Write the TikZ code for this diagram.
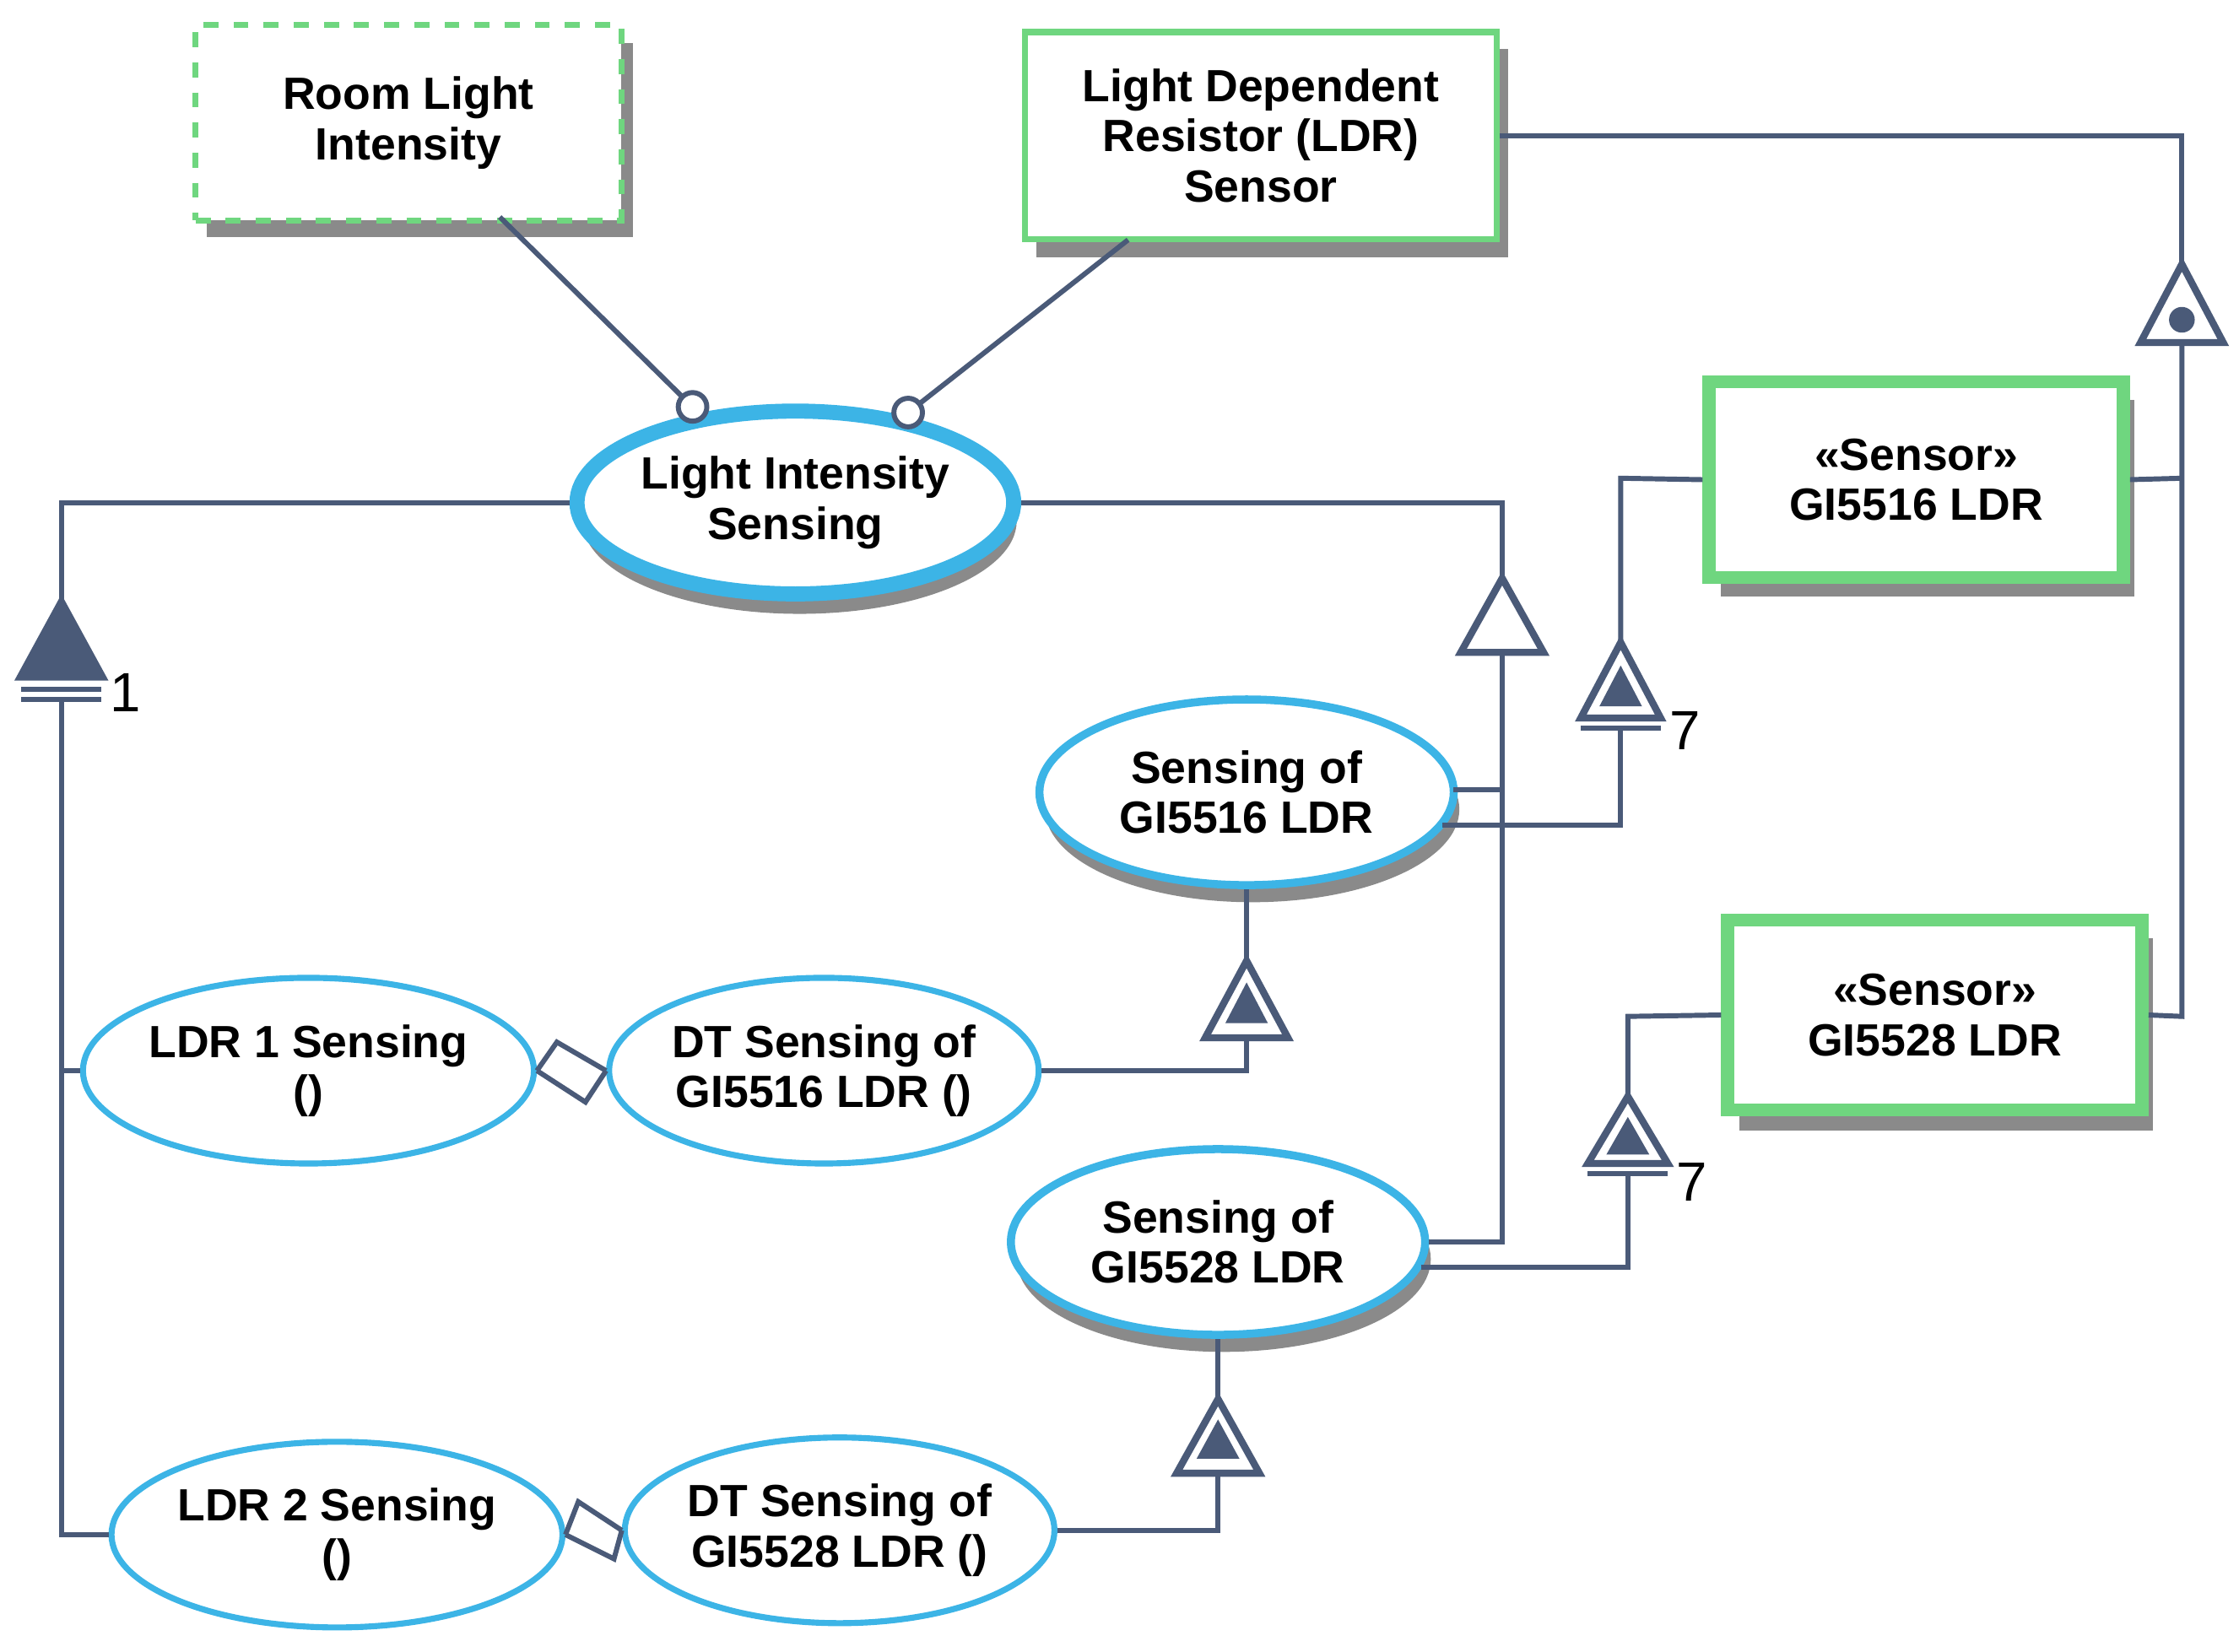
\documentclass[tikz,border=0pt]{standalone}
\usepackage{fontspec}
\setmainfont{Liberation Sans}
\usetikzlibrary{shapes.geometric}
\definecolor{ln}{HTML}{4A5A78}
\definecolor{gr}{HTML}{6FD67F}
\definecolor{bl}{HTML}{3CB4E6}
\definecolor{sh}{HTML}{8A8A8A}
\begin{document}
\begin{tikzpicture}[x=0.01cm,y=-0.01cm,
  txt/.style={font=\fontsize{9}{10}\selectfont\bfseries,align=center,text=black},
  box/.style={txt,draw=gr,fill=white,line width=1.2pt,inner sep=0pt},
  sbox/.style={box,line width=2.6pt},
  ell/.style={txt,ellipse,draw=bl,fill=white,line width=1.2pt,inner sep=0pt},
  con/.style={draw=ln,line width=1pt},
  tri/.style={con,fill=white,line width=1.4pt},
  ftri/.style={con,fill=ln}]
\useasboundingbox (0,0) rectangle (1568,1157);
% shadows
\fill[sh] (145,30) rectangle (443,166);
\fill[sh] (726,34) rectangle (1056,180);
\fill[sh] (1205,280) rectangle (1495,418);
\fill[sh] (1218,657) rectangle (1508,792);
\foreach \x/\y/\a/\b in {560/365/152/65, 877/567/145/65, 857/882/145/65}
  \fill[sh] (\x,\y) ellipse [x radius=\a,y radius=\b];
% nodes
\node[box,dashed,minimum width=2.98cm,minimum height=1.37cm] (room) at (286,86) {Room Light\\Intensity};
\node[box,minimum width=3.3cm,minimum height=1.45cm] (ldr) at (883,95) {Light Dependent\\Resistor (LDR)\\Sensor};
\node[sbox,minimum width=2.9cm,minimum height=1.37cm] (s16) at (1342,336) {<<Sensor>>\\GI5516 LDR};
\node[sbox,minimum width=2.9cm,minimum height=1.33cm] (s28) at (1355,711) {<<Sensor>>\\GI5528 LDR};
\node[ell,line width=3pt,minimum width=3.02cm,minimum height=1.28cm] (lis) at (557,352) {Light Intensity\\Sensing};
\node[ell,line width=1.6pt,minimum width=2.9cm,minimum height=1.3cm] (g16) at (873,555) {Sensing of\\GI5516 LDR};
\node[ell,line width=1.6pt,minimum width=2.9cm,minimum height=1.3cm] (g28) at (853,870) {Sensing of\\GI5528 LDR};
\node[ell,minimum width=3cm,minimum height=1.3cm] (l1) at (216,750) {LDR 1 Sensing\\()};
\node[ell,minimum width=2.9cm,minimum height=1.3cm] (d16) at (577,750) {DT Sensing of\\GI5516 LDR ()};
\node[ell,minimum width=3cm,minimum height=1.3cm] (l2) at (236,1075) {LDR 2 Sensing\\()};
\node[ell,minimum width=2.9cm,minimum height=1.3cm] (d28) at (588,1072) {DT Sensing of\\GI5528 LDR ()};
% attachment circles
\coordinate (c1) at (485,285); \coordinate (c2) at (636,289);
\draw[con] (350,152) -- (c1); \draw[con] (790,168) -- (c2);
\draw[con,fill=white] (c1) circle (10); \draw[con,fill=white] (c2) circle (10);
% left tree (mandatory filled triangle)
\draw[con] (lis.west) -- (43,352) -- (43,420);
\draw[ftri] (43,420) -- (73,475) -- (13,475) -- cycle;
\draw[con] (15,483) -- (71,483) (15,490) -- (71,490);
\node[font=\fontsize{11}{12}\selectfont] (n1) at (88,485) {1};
\draw[con] (43,490) -- (43,1075) -- (l2.west);
\draw[con] (43,750) -- (l1.west);
% right tree from LIS (hollow triangle)
\draw[con] (lis.east) -- (1052,352) -- (1052,405);
\draw[tri] (1052,405) -- (1081,457) -- (1023,457) -- cycle;
\draw[con] (1052,457) -- (1052,870) -- (g28.east);
\draw[con] (1052,553) -- (1018,553);
% GI5516 sensing -> sensor
\draw[con] (1010,578) -- (1135,578) -- (1135,510);
\draw[con] (1107,503) -- (1163,503) (1107,510) -- (1163,510);
\draw[tri] (1135,450) -- (1163,503) -- (1107,503) -- cycle;
\draw[ftri] (1135,470) -- (1147,493) -- (1123,493) -- cycle;
\draw[con] (1135,450) -- (1135,335) -- (s16.west);
\node[font=\fontsize{11}{12}\selectfont] (n7a) at (1180,512) {7};
% GI5528 sensing -> sensor
\draw[con] (995,888) -- (1140,888) -- (1140,822);
\draw[con] (1112,815) -- (1168,815) (1112,822) -- (1168,822);
\draw[tri] (1140,768) -- (1168,815) -- (1112,815) -- cycle;
\draw[ftri] (1140,786) -- (1152,807) -- (1128,807) -- cycle;
\draw[con] (1140,768) -- (1140,712) -- (s28.west);
\node[font=\fontsize{11}{12}\selectfont] (n7b) at (1185,828) {7};
% LDR sensor -> sensors
\draw[con] (ldr.east) -- (1528,95) -- (1528,185);
\draw[tri] (1528,185) -- (1557,240) -- (1499,240) -- cycle;
\fill[ln] (1528,224) circle (9);
\draw[con] (1528,240) -- (1528,712) -- (s28.east);
\draw[con] (1528,335) -- (s16.east);
% DT -> sensing
\draw[con] (d16.east) -- (873,750) -- (873,727);
\draw[tri] (873,673) -- (902,727) -- (844,727) -- cycle;
\draw[ftri] (873,692) -- (885,715) -- (861,715) -- cycle;
\draw[con] (873,673) -- (g16.south);
\draw[con] (d28.east) -- (853,1072) -- (853,1032);
\draw[tri] (853,980) -- (882,1032) -- (824,1032) -- cycle;
\draw[ftri] (853,998) -- (865,1020) -- (841,1020) -- cycle;
\draw[con] (853,980) -- (g28.south);
% LDR - DT links
\draw[con] (l1.east) -- (390,730) -- (d16.west);
\draw[con] (l1.east) -- (410,772) -- (d16.west);
\draw[con] (l2.east) -- (405,1052) -- (d28.west);
\draw[con] (l2.east) -- (430,1092) -- (d28.west);
\end{tikzpicture}
\end{document}
